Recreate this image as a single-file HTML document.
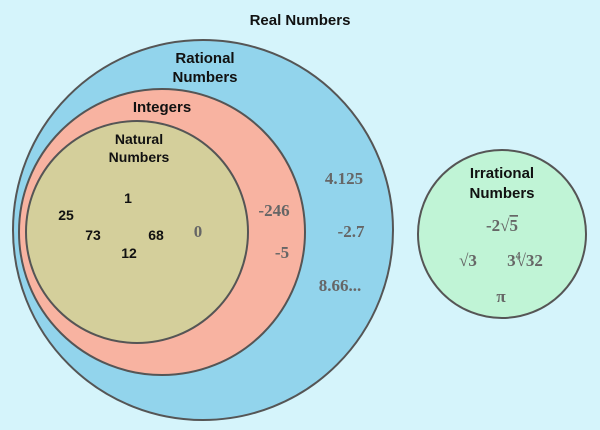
<!DOCTYPE html>
<html><head><meta charset="utf-8"><style>
html,body{margin:0;padding:0;background:#d5f4fb}
svg{display:block}
.t{font-family:"Liberation Sans",sans-serif;font-weight:bold;fill:#111;text-anchor:middle}
.m{font-family:"Liberation Serif",serif;font-weight:bold;fill:#666;font-size:17px;text-anchor:middle}
.n{font-family:"Liberation Sans",sans-serif;font-weight:bold;fill:#111;font-size:14px;text-anchor:middle}
</style></head><body>
<svg width="600" height="430" viewBox="0 0 600 430">
<rect width="600" height="430" fill="#d5f4fb"/>
<text class="t" x="300" y="25" font-size="15">Real Numbers</text>
<circle cx="203" cy="230" r="190" fill="#92d4ec" stroke="#555" stroke-width="2"/>
<text class="t" x="205" y="63" font-size="15">Rational</text>
<text class="t" x="205" y="82" font-size="15">Numbers</text>
<circle cx="162" cy="232" r="143" fill="#f8b3a1" stroke="#555" stroke-width="2"/>
<text class="t" x="162" y="112" font-size="15">Integers</text>
<circle cx="137" cy="232" r="111" fill="#d4cf9b" stroke="#555" stroke-width="2"/>
<text class="t" x="139" y="144" font-size="14">Natural</text>
<text class="t" x="139" y="162" font-size="14">Numbers</text>
<text class="n" x="128" y="203">1</text>
<text class="n" x="66" y="220">25</text>
<text class="n" x="93" y="240">73</text>
<text class="n" x="156" y="240">68</text>
<text class="n" x="129" y="258">12</text>
<text class="m" x="198" y="237">0</text>
<text class="m" x="274" y="216">-246</text>
<text class="m" x="282" y="258">-5</text>
<text class="m" x="344" y="184">4.125</text>
<text class="m" x="351" y="237">-2.7</text>
<text class="m" x="340" y="291">8.66...</text>
<circle cx="502" cy="234" r="84" fill="#c0f4d6" stroke="#555" stroke-width="2"/>
<text class="t" x="502" y="178" font-size="15">Irrational</text>
<text class="t" x="502" y="198" font-size="15">Numbers</text>
<text class="m" x="502" y="231">-2√<tspan text-decoration="overline">5</tspan></text>
<text class="m" x="468" y="266">√3</text>
<text class="m" x="525" y="266">3<tspan font-size="10" dy="-7">4</tspan><tspan dy="7" dx="-4">√32</tspan></text>
<text class="m" x="501" y="302" font-weight="normal">π</text>
</svg>
</body></html>
